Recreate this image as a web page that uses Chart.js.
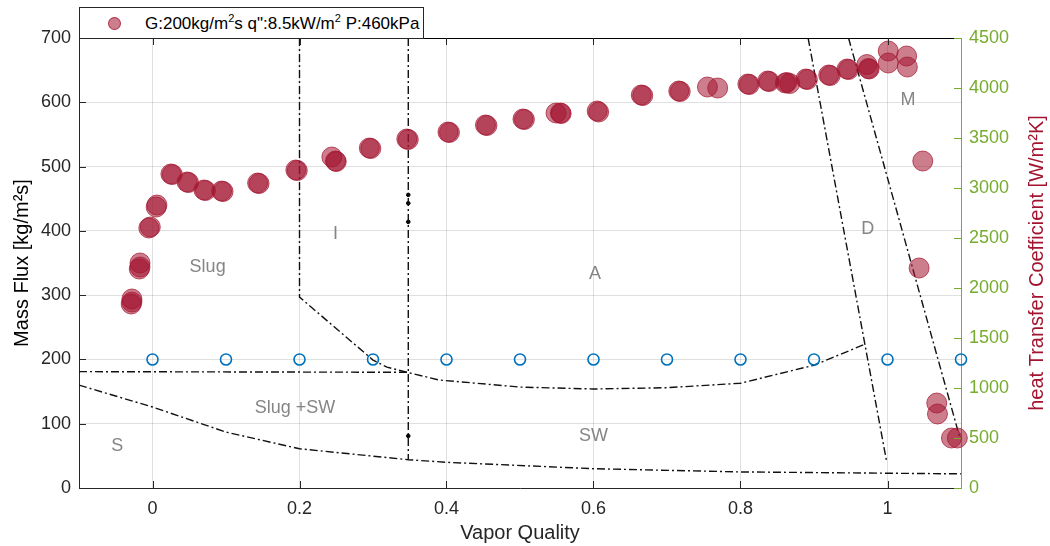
<!DOCTYPE html>
<html>
<head>
<meta charset="utf-8">
<script src="https://cdn.jsdelivr.net/npm/chart.js@4.4.1/dist/chart.umd.min.js"></script>
<style>
  html, body { margin: 0; padding: 0; background: #fff; }
  #wrap { position: relative; width: 1050px; height: 546px; }
  #legend {
    position: absolute; left: 79px; top: 7px; width: 345px; height: 32px;
    box-sizing: border-box; border: 1px solid #262626; background: #fff;
    font: 17px "Liberation Sans", Arial, sans-serif; color: #000;
  }
  #legend .mark {
    position: absolute; left: 28px; top: 9px; width: 11px; height: 11px;
    border-radius: 50%; background: rgba(162, 20, 47, 0.55);
    border: 1px solid rgba(162, 20, 47, 0.75);
  }
  #legend .txt { position: absolute; left: 65px; top: 0; line-height: 31px; white-space: nowrap; }
  #legend sup { font-size: 11px; vertical-align: 7px; line-height: 0; }
</style>
</head>
<body>
<div id="wrap">
  <canvas id="chart" width="1050" height="546"></canvas>
  <div id="legend"><span class="mark"></span><span class="txt">G:200kg/m<sup>2</sup>s q":8.5kW/m<sup>2</sup> P:460kPa</span></div>
</div>
<script>
// --- Data ---
const xTicks = [0, 0.2, 0.4, 0.6, 0.8, 1];

// heat transfer coefficient measurements (right axis)
const htcQuality = [-0.029, -0.028, -0.028, -0.018, -0.017, -0.017, -0.005, -0.003, 0.005, 0.006,
  0.025, 0.027, 0.047, 0.049, 0.070, 0.072, 0.094, 0.096, 0.143, 0.145, 0.195, 0.197,
  0.244, 0.249, 0.250, 0.295, 0.297, 0.346, 0.348, 0.402, 0.404, 0.453, 0.455, 0.504, 0.506,
  0.549, 0.555, 0.556, 0.605, 0.607, 0.665, 0.667, 0.716, 0.718, 0.755, 0.769,
  0.810, 0.812, 0.837, 0.839, 0.861, 0.863, 0.867, 0.889, 0.891, 0.920, 0.922, 0.945, 0.947,
  0.972, 0.974, 0.975, 1.001, 1.001, 1.026, 1.027, 1.048, 1.043, 1.067, 1.068, 1.087, 1.095];
const htcValues = [1840, 1860, 1890, 2190, 2210, 2250, 2600, 2610, 2810, 2830,
  3140, 3135, 3060, 3055, 2980, 2975, 2970, 2965, 3050, 3045, 3180, 3175,
  3310, 3270, 3265, 3400, 3395, 3490, 3485, 3560, 3555, 3630, 3625, 3690, 3685,
  3750, 3750, 3745, 3770, 3760, 3930, 3925, 3970, 3965, 4010, 4000,
  4040, 4035, 4070, 4065, 4050, 4055, 4045, 4090, 4085, 4130, 4125, 4190, 4185,
  4235, 4195, 4190, 4370, 4250, 4320, 4210, 3270, 2200, 850, 740, 500, 500];

// test condition markers (left axis)
const testQuality = [0, 0.1, 0.2, 0.3, 0.4, 0.5, 0.6, 0.7, 0.8, 0.9, 1.0, 1.1];
const testFlux = [200, 200, 200, 200, 200, 200, 200, 200, 200, 200, 200, 200];

// flow pattern map boundaries
const slugSwX = [-0.1, 0.348];
const slugSwY = [181, 180];
const annularX = [0.2, 0.2, 0.3, 0.319, 0.346, 0.39, 0.5, 0.6, 0.7, 0.8, 0.9, 0.97];
const annularY = [700, 297, 199, 188, 180, 168, 157, 154, 156, 163, 191, 224];
const stratX = [-0.1, 0, 0.1, 0.2, 0.348, 0.4, 0.6, 0.8, 1.0, 1.1];
const stratY = [160, 126, 87, 61, 44, 40, 30, 25, 23, 22];
const intermX = [0.348, 0.348];
const intermY = [700, 44];
const dryoutX = [0.892, 0.999];
const dryoutY = [700, 40];
const mistX = [0.947, 1.098];
const mistY = [700, 80];
const markX = [0.348, 0.348, 0.348, 0.348];
const markY = [456, 443, 414, 81];

// region labels
const regionText = ['Slug', 'I', 'A', 'Slug +SW', 'S', 'SW', 'D', 'M'];
const regionX = [0.075, 0.249, 0.602, 0.194, -0.048, 0.600, 0.973, 1.028];
const regionY = [343, 395, 333, 125, 65, 81, 403, 603];

// --- Helpers ---
const FONT = '"Liberation Sans", Arial, sans-serif';
const AX = '#262626';
const GREEN = '#77AC30';
const RED = '#A2142F';

const pts = (xs, ys) => xs.map((x, i) => ({ x: x, y: ys[i] }));

function boundary(xs, ys) {
    return {
        type: 'scatter', data: pts(xs, ys), yAxisID: 'y', showLine: true,
        borderColor: '#111', borderWidth: 1.4, borderDash: [8, 3, 2, 3],
        pointRadius: 0, tension: 0, fill: false, order: 2
    };
}

// --- Plugins ---
const decorations = {
    id: 'decorations',
    afterDatasetsDraw(chart) {
        const ctx = chart.ctx;
        const { left, right, top, bottom } = chart.chartArea;
        const sx = chart.scales.x, sy = chart.scales.y, sy2 = chart.scales.y2;
        const tl = 7;
        ctx.save();

        // region labels
        ctx.fillStyle = '#858585';
        ctx.font = '18px ' + FONT;
        ctx.textAlign = 'center';
        ctx.textBaseline = 'middle';
        regionText.forEach((t, i) => {
            ctx.fillText(t, sx.getPixelForValue(regionX[i]), sy.getPixelForValue(regionY[i]));
        });

        // top border
        ctx.strokeStyle = '#000';
        ctx.lineWidth = 1;
        ctx.beginPath();
        ctx.moveTo(left, top + 0.5);
        ctx.lineTo(right, top + 0.5);
        ctx.stroke();

        // inward ticks
        ctx.strokeStyle = AX;
        ctx.beginPath();
        xTicks.forEach(v => {
            const p = Math.round(sx.getPixelForValue(v)) + 0.5;
            ctx.moveTo(p, bottom); ctx.lineTo(p, bottom - tl);
            ctx.moveTo(p, top); ctx.lineTo(p, top + tl);
        });
        sy.ticks.forEach(t => {
            const p = Math.round(sy.getPixelForValue(t.value)) + 0.5;
            ctx.moveTo(left, p); ctx.lineTo(left + tl, p);
        });
        ctx.stroke();
        ctx.strokeStyle = GREEN;
        ctx.beginPath();
        sy2.ticks.forEach(t => {
            const p = Math.round(sy2.getPixelForValue(t.value)) + 0.5;
            ctx.moveTo(right, p); ctx.lineTo(right - tl, p);
        });
        ctx.stroke();

        // right axis title, reading bottom to top
        ctx.translate(1037, (top + bottom) / 2);
        ctx.rotate(-Math.PI / 2);
        ctx.fillStyle = RED;
        ctx.font = '20px ' + FONT;
        ctx.fillText('heat Transfer Coefficient [W/m²K]', 0, 0);
        ctx.restore();
    }
};

// --- Chart ---
const ctx = document.getElementById('chart').getContext('2d');
new Chart(ctx, {
    type: 'scatter',
    data: {
        datasets: [
            {
                label: 'HTC', data: pts(htcQuality, htcValues), yAxisID: 'y2',
                backgroundColor: 'rgba(162, 20, 47, 0.55)', borderColor: 'rgba(162, 20, 47, 0.7)',
                borderWidth: 1, pointRadius: 10, clip: false, order: 0
            },
            {
                label: 'Test', data: pts(testQuality, testFlux), yAxisID: 'y',
                backgroundColor: 'rgba(0,0,0,0)', borderColor: '#0072BD',
                borderWidth: 1.6, pointRadius: 5.5, clip: false, order: 1
            },
            boundary(slugSwX, slugSwY),
            boundary(annularX, annularY),
            boundary(stratX, stratY),
            boundary(intermX, intermY),
            boundary(dryoutX, dryoutY),
            boundary(mistX, mistY),
            {
                label: 'marks', data: pts(markX, markY), yAxisID: 'y',
                backgroundColor: '#000', borderColor: '#000', pointRadius: 1.8, order: 2
            }
        ]
    },
    options: {
        responsive: false,
        animation: false,
        events: [],
        layout: { padding: { top: 38, left: 0, right: 0, bottom: 0 } },
        scales: {
            x: {
                type: 'linear', min: -0.1, max: 1.1,
                afterBuildTicks: s => { s.ticks = xTicks.map(v => ({ value: v })); },
                afterFit: s => { s.height = 58; },
                grid: { color: 'rgba(0,0,0,0.12)', drawTicks: false },
                border: { color: AX, width: 1 },
                ticks: { color: AX, font: { size: 18, family: FONT }, padding: 10, maxRotation: 0, callback: v => String(v) },
                title: { display: true, text: 'Vapor Quality', color: AX, font: { size: 20, family: FONT }, padding: { top: 0, bottom: 1 } }
            },
            y: {
                type: 'linear', position: 'left', min: 0, max: 700,
                afterFit: s => { s.width = 79; },
                grid: { color: 'rgba(0,0,0,0.12)', drawTicks: false },
                border: { color: AX, width: 1 },
                ticks: { stepSize: 100, color: AX, font: { size: 18, family: FONT }, padding: 8, callback: v => String(v) },
                title: { display: true, text: 'Mass Flux [kg/m²s]', color: '#000', font: { size: 20, family: FONT }, padding: { top: 10, bottom: 0 } }
            },
            y2: {
                type: 'linear', position: 'right', min: 0, max: 4500,
                afterFit: s => { s.width = 89; },
                grid: { drawOnChartArea: false, drawTicks: false },
                border: { color: GREEN, width: 1 },
                ticks: { stepSize: 500, color: GREEN, font: { size: 18, family: FONT }, padding: 8, callback: v => String(v) }
            }
        },
        plugins: { legend: { display: false }, tooltip: { enabled: false } }
    },
    plugins: [decorations]
});
</script>
</body>
</html>
